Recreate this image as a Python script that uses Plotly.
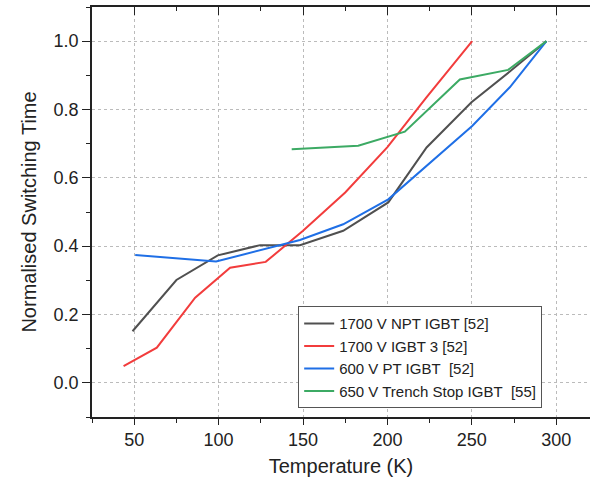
import plotly.graph_objects as go

# Data
npt_x = [49, 75, 99.5, 124.6, 148.2, 173.8, 200.5, 223.2, 249.8, 272.5, 294.2]
npt_y = [0.151, 0.301, 0.373, 0.403, 0.403, 0.445, 0.528, 0.689, 0.821, 0.911, 1.0]

igbt3_x = [43.7, 63.4, 86.1, 106.8, 127.9, 150, 175, 200, 223, 250.2]
igbt3_y = [0.049, 0.103, 0.249, 0.337, 0.354, 0.445, 0.557, 0.69, 0.835, 1.0]

pt_x = [50.6, 98.5, 148.2, 173.8, 200.5, 250.2, 272.5, 294.2]
pt_y = [0.374, 0.355, 0.418, 0.464, 0.537, 0.752, 0.865, 1.0]

ts_x = [143.3, 182.7, 210.3, 242.9, 271.5, 294.2]
ts_y = [0.684, 0.694, 0.735, 0.888, 0.916, 1.0]

names = ["1700 V NPT IGBT [52]", "1700 V IGBT 3 [52]",
         "600 V PT IGBT\u00a0 [52]", "650 V Trench Stop IGBT\u00a0 [55]"]
colors = ["#505050", "#f23c3c", "#1f6fe6", "#3caa64"]

x_ticks = [50, 100, 150, 200, 250, 300]
y_ticks = [0.0, 0.2, 0.4, 0.6, 0.8, 1.0]

series = [(npt_x, npt_y), (igbt3_x, igbt3_y), (pt_x, pt_y), (ts_x, ts_y)]

fig = go.Figure()
for (xs, ys), n, c in zip(series, names, colors):
    fig.add_trace(go.Scatter(x=xs, y=ys, mode="lines", name=n,
                             line=dict(color=c, width=2)))

# dummy trace for top axis
fig.add_trace(go.Scatter(x=[None], y=[None], xaxis="x2", showlegend=False))

font_family = "Liberation Sans, Arial, sans-serif"
fig.update_layout(
    width=590, height=485,
    margin=dict(l=92, r=0, t=7, b=68),
    paper_bgcolor="white", plot_bgcolor="white",
    font=dict(family=font_family, size=18, color="#222"),
    showlegend=True,
    legend=dict(x=0.414, y=0.27, xanchor="left", yanchor="top",
                bgcolor="white", bordercolor="#555", borderwidth=1,
                font=dict(size=15, color="#222"),
                tracegroupgap=0, itemwidth=30),
    xaxis=dict(
        range=[25, 320], tickvals=x_ticks, ticks="outside", ticklen=6,
        tickwidth=1, tickcolor="#222", tickfont=dict(size=18),
        minor=dict(dtick=25, tick0=0, ticks="outside", ticklen=4, tickcolor="#222", showgrid=False),
        showline=True, linecolor="#222", linewidth=1.5,
        showgrid=True, gridcolor="#bbbbbb", griddash="3px,3px", gridwidth=1,
        zeroline=False,
        title=dict(text="Temperature (K)", font=dict(size=20, color="#222"), standoff=10),
    ),
    xaxis2=dict(
        range=[25, 320], overlaying="x", side="top", tickvals=x_ticks,
        ticks="inside", ticklen=8, tickwidth=1, tickcolor="#222",
        minor=dict(dtick=25, tick0=0, ticks="inside", ticklen=4, tickcolor="#222", showgrid=False),
        showticklabels=False, showline=True, linecolor="#222", linewidth=1.5,
        showgrid=False, zeroline=False,
    ),
    yaxis=dict(
        range=[-0.1, 1.1], tickvals=y_ticks, tickformat=".1f",
        ticks="outside", ticklen=8, tickwidth=1, tickcolor="#222", tickfont=dict(size=18),
        minor=dict(dtick=0.1, tick0=0, ticks="outside", ticklen=4, tickcolor="#222", showgrid=False),
        showline=True, linecolor="#222", linewidth=1.5,
        showgrid=True, gridcolor="#bbbbbb", griddash="3px,3px", gridwidth=1,
        zeroline=False,
        title=dict(text="Normalised Switching Time", font=dict(size=20, color="#222"), standoff=12),
    ),
)

fig.write_html("out.html")
